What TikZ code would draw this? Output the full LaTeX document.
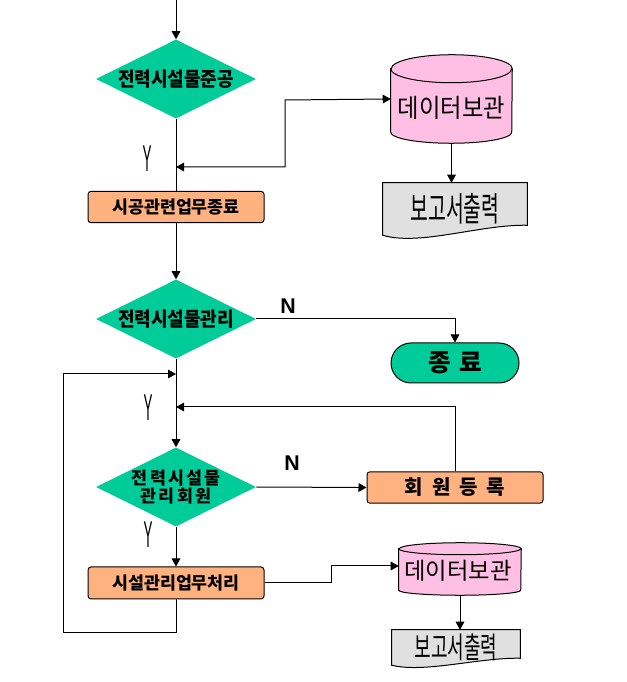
\documentclass[tikz,border=0pt]{standalone}
\usepackage{fontspec}
\usepackage{graphicx}
\usetikzlibrary{shapes.geometric,arrows.meta}

\newfontfamily\korfont{Noto Sans CJK KR}
\newfontfamily\labfont{Liberation Sans}

\definecolor{flowgreen}{RGB}{0,204,153}
\definecolor{procfill}{RGB}{255,178,128}
\definecolor{storefill}{RGB}{255,190,228}
\definecolor{docfill}{RGB}{224,224,224}

\tikzset{
  >={Triangle[length=6pt,width=6.5pt]},
  conn/.style={draw=black,line width=0.75pt},
  flow/.style={conn,->},
  decision/.style={diamond,aspect=2,fill=flowgreen,inner sep=-2pt,
    minimum width=120pt,minimum height=59.25pt,align=center,
    font=\korfont\bfseries\fontsize{13.5}{13.5}\selectfont},
  process/.style={rectangle,rounded corners=2.25pt,draw=black,line width=0.75pt,
    fill=procfill,minimum width=132pt,minimum height=23.5pt,inner sep=0pt,
    font=\korfont\bfseries\fontsize{13}{13}\selectfont},
  terminal/.style={rectangle,rounded corners=15pt,draw=black,line width=0.75pt,
    fill=flowgreen,minimum width=96pt,minimum height=30pt,inner sep=0pt,
    font=\korfont\bfseries\fontsize{18.5}{18.5}\selectfont\addfontfeatures{LetterSpace=12}},
  storebox/.style={rectangle,draw=none,inner sep=0pt},
  storeshape/.style={draw=black,line width=0.75pt,fill=storefill},
  storetext/.style={inner sep=0pt,font=\korfont\fontsize{17.5}{17.5}\selectfont},
  docbox/.style={rectangle,draw=none,inner sep=0pt},
  docshape/.style={draw=black,line width=0.75pt,fill=docfill},
  doctext/.style={inner sep=0pt,font=\korfont\fontsize{14.5}{14.5}\selectfont},
  ylabel/.style={inner sep=0pt,font=\labfont\fontsize{28}{28}\selectfont},
  nlabel/.style={inner sep=0pt,font=\labfont\bfseries\fontsize{16}{16}\selectfont}
}

\begin{document}
\begin{tikzpicture}[x=0.75pt,y=0.75pt]
\useasboundingbox (0,0) rectangle (626,682);

%% main column
\coordinate (start) at (176,682);
\node (d1) at (176,603) [decision] {\scalebox{1}[1.1]{전력시설물준공}};
\node (box1) at (176,475) [process] {시공관련업무종료};
\node (d2) at (176,363) [decision] {\scalebox{1}[1.1]{전력시설물관리}};
\node (d3) at (176,195) [decision,inner sep=-4pt,font=\korfont\bfseries\fontsize{13}{13.5}\selectfont\addfontfeatures{LetterSpace=12}] {전력시설물\\관리회원};
\node (box2) at (176,99) [process,minimum height=24pt] {시설관리업무처리};

%% right column
\node (term) at (455,319) [terminal] {종 료};
\node (reg) at (455,194.5) [process,font=\korfont\bfseries\fontsize{15}{15}\selectfont\addfontfeatures{LetterSpace=45}] {회원등록};

%% data store 1
\node (db1) at (451.5,583) [storebox,minimum width=90.75pt,minimum height=66pt] {};
\path[storeshape] ([yshift=-10.5pt]db1.north west) -- ([yshift=8.25pt]db1.south west)
  arc[start angle=180,end angle=360,x radius=45.375pt,y radius=8.25pt]
  -- ([yshift=-10.5pt]db1.north east)
  arc[start angle=0,end angle=180,x radius=45.375pt,y radius=10.5pt] -- cycle;
\draw[conn] ([yshift=-10.5pt]db1.north west)
  arc[start angle=180,end angle=360,x radius=45.375pt,y radius=10.5pt];
\node (db1txt) at (451.5,574) [storetext] {\scalebox{1}[1.1]{데이터보관}};

%% report 1
\node (doc1) at (455,473) [docbox,minimum width=108pt,minimum height=39pt] {};
\path[docshape] (doc1.north west) -- (doc1.north east) -- ([yshift=7.5pt]doc1.south east)
  .. controls ([xshift=-35.25pt,yshift=8.25pt]doc1.south east)
  and ([xshift=27.75pt,yshift=-8.25pt]doc1.south west) .. (doc1.south west) -- cycle;
\node (doc1txt) at (doc1.center) [doctext] {\scalebox{1}[1.75]{보고서출력}};

%% data store 2
\node (db2) at (460,113) [storebox,minimum width=91.5pt,minimum height=39pt] {};
\path[storeshape] ([yshift=-4.5pt]db2.north west) -- ([yshift=3.75pt]db2.south west)
  arc[start angle=180,end angle=360,x radius=45.75pt,y radius=3.75pt]
  -- ([yshift=-4.5pt]db2.north east)
  arc[start angle=0,end angle=180,x radius=45.75pt,y radius=4.5pt] -- cycle;
\draw[conn] ([yshift=-4.5pt]db2.north west)
  arc[start angle=180,end angle=360,x radius=45.75pt,y radius=4.5pt];
\node (db2txt) at (458,111) [storetext] {데이터보관};

%% report 2
\node (doc2) at (456,34.5) [docbox,minimum width=96pt,minimum height=26.25pt] {};
\path[docshape] (doc2.north west) -- (doc2.north east) -- ([yshift=5.25pt]doc2.south east)
  .. controls ([xshift=-30pt,yshift=6pt]doc2.south east)
  and ([xshift=24.75pt,yshift=-6pt]doc2.south west) .. (doc2.south west) -- cycle;
\node (doc2txt) at (doc2.center) [doctext,font=\korfont\fontsize{13.5}{13.5}\selectfont] {\scalebox{1}[1.65]{보고서출력}};

%% labels
\node (y1) at (147,523) [ylabel] {\scalebox{0.36}[1]{Y}};
\node (y2) at (148,274) [ylabel] {\scalebox{0.36}[1]{Y}};
\node (y3) at (148,147) [ylabel] {\scalebox{0.36}[1]{Y}};
\node (n1) at (288,376) [nlabel] {N};
\node (n2) at (292,219) [nlabel] {N};

%% junctions on the main line
\coordinate (j1) at (176,515);
\coordinate (j2) at (176,308);
\coordinate (j3) at (176,275);
\coordinate (k1) at (285,582);
\coordinate (k2) at (331,116);
\coordinate (l1) at (63,49);

%% connectors
\draw[flow] (start) -- (d1.north);
\draw[conn] (d1.south) -- (box1.north);
\draw[conn,<->] (j1) -| (k1) -- (db1.west);
\draw[flow] (db1.south) -- (db1.south |- doc1.north);
\draw[flow] (box1.south) -- (d2.north);
\draw[flow] (d2.east) -| (term.north);
\draw[flow] (d2.south) -- (d3.north);
\draw[flow] (d3.east) -- (reg.west);
\draw[flow] (reg.north) |- (j3);
\draw[flow] (d3.south) -- (box2.north);
\draw[flow] (box2.south) |- (l1) |- (j2);
\draw[flow] (box2.east) -| (k2) -- (k2 -| db2.west);
\draw[flow] (db2.south) -- (db2.south |- doc2.north);

\end{tikzpicture}
\end{document}
